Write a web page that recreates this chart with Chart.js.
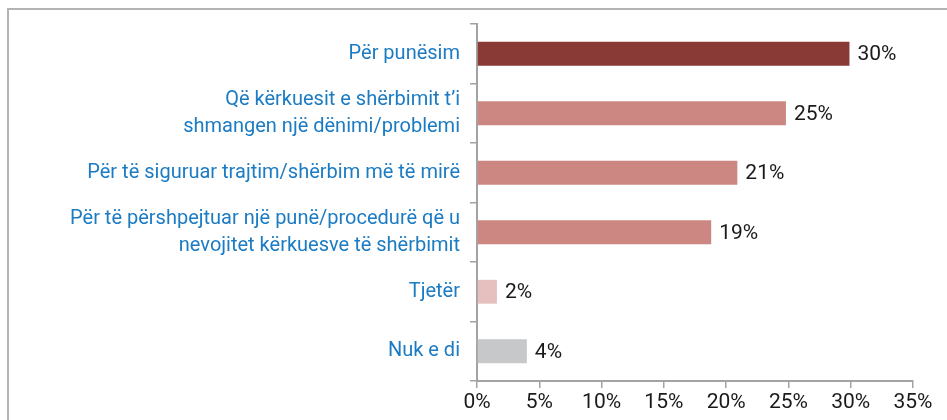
<!DOCTYPE html>
<html>
<head>
<meta charset="utf-8">
<script src="https://cdn.jsdelivr.net/npm/chart.js@4"></script>
<style>
  html, body { margin: 0; padding: 0; background: #fff; }
  #wrap { position: relative; width: 947px; height: 420px; overflow: hidden; }
  #frame { position: absolute; left: 7px; top: 8px; right: -5px; bottom: -5px;
           border-top: 2px solid #b3b3b3; border-left: 2px solid #b3b3b3; }
  #myChart { position: absolute; left: 0; top: 0; }
</style>
</head>
<body>
<div id="wrap">
  <div id="frame"></div>
  <canvas id="myChart" width="947" height="420"></canvas>
</div>
<script>
// categories (two-line ones split into arrays)
var categories = [
  "Për punësim",
  ["Që kërkuesit e shërbimit t’i", "shmangen një dënimi/problemi"],
  "Për të siguruar trajtim/shërbim më të mirë",
  ["Për të përshpejtuar një punë/procedurë që u", "nevojitet kërkuesve të shërbimit"],
  "Tjetër",
  "Nuk e di"
];
var shares = [29.9, 24.8, 20.9, 18.8, 1.6, 4.0];
var barColors = ["#8a3a36", "#cd8783", "#cd8783", "#cd8783", "#e5c0bf", "#c7c8ca"];
var xTicks = [0, 5, 10, 15, 20, 25, 30, 35];

var axisGray = "#a3a3a3";
var fontFamily = "Roboto, 'Open Sans', sans-serif";

// value labels to the right of each bar
var valueLabels = {
  id: "valueLabels",
  afterDatasetsDraw: function(chart) {
    var ctx = chart.ctx;
    var meta = chart.getDatasetMeta(0);
    ctx.save();
    ctx.font = "21px " + fontFamily;
    ctx.fillStyle = "#1a1a1a";
    ctx.textAlign = "left";
    ctx.textBaseline = "middle";
    meta.data.forEach(function(bar, i) {
      ctx.fillText(Math.round(shares[i]) + "%", bar.x + 8, bar.y + 1);
    });
    ctx.restore();
  }
};

var ctx = document.getElementById("myChart").getContext("2d");
var chart = new Chart(ctx, {
  type: "bar",
  data: {
    labels: categories,
    datasets: [{
      data: shares,
      backgroundColor: barColors,
      categoryPercentage: 1,
      barPercentage: 0.4
    }]
  },
  options: {
    indexAxis: "y",
    responsive: false,
    animation: false,
    layout: { padding: { top: 24, right: 34, left: 0, bottom: 0 } },
    plugins: { legend: { display: false }, tooltip: { enabled: false } },
    scales: {
      x: {
        min: 0,
        max: 35,
        afterBuildTicks: function(scale) {
          scale.ticks = xTicks.map(function(v) { return { value: v }; });
        },
        afterFit: function(scale) { scale.height = 39; },
        grid: { drawOnChartArea: false, drawTicks: true, tickLength: 7, color: axisGray, lineWidth: 1.5 },
        border: { color: axisGray, width: 2 },
        ticks: {
          padding: 2,
          color: "#1a1a1a",
          font: { family: fontFamily, size: 21 },
          maxRotation: 0,
          callback: function(v) { return v + "%"; }
        }
      },
      y: {
        afterFit: function(scale) { scale.width = 477; },
        grid: { drawOnChartArea: false, drawTicks: true, tickLength: 7, color: axisGray, lineWidth: 1.5 },
        border: { color: axisGray, width: 2 },
        ticks: {
          padding: 10,
          color: "#1b7bc3",
          font: { family: fontFamily, size: 20, lineHeight: 1.35 }
        }
      }
    }
  },
  plugins: [valueLabels]
});
</script>
</body>
</html>
